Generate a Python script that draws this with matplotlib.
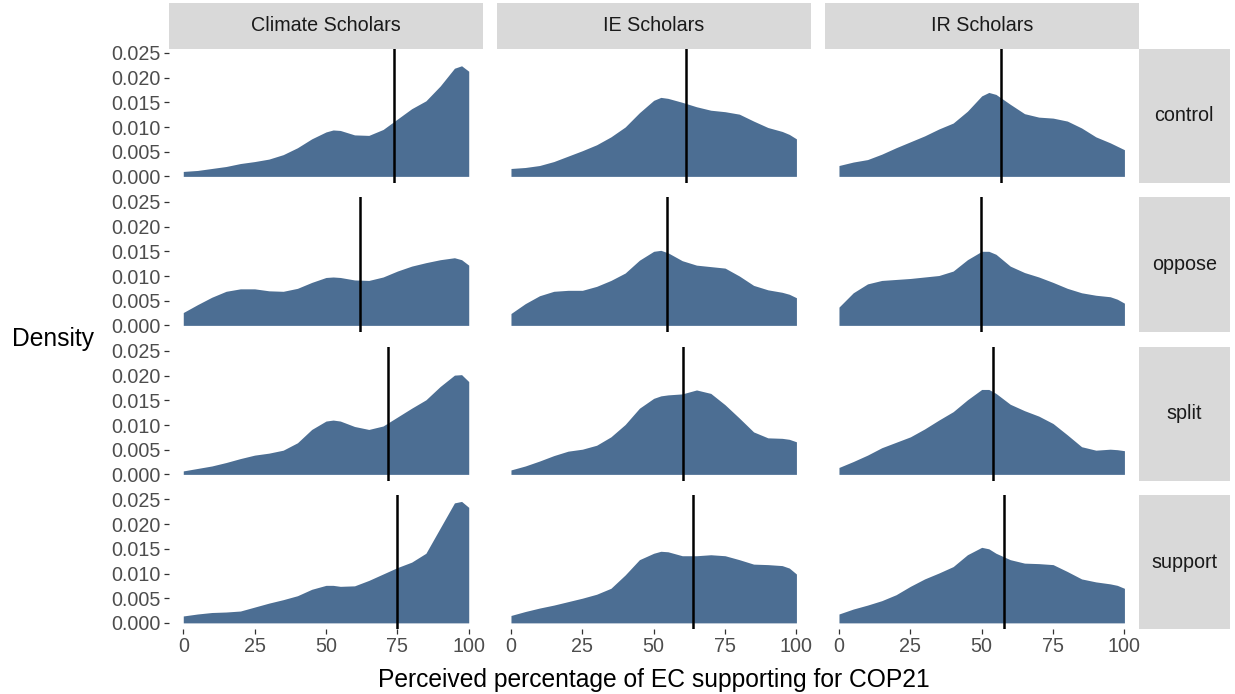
import matplotlib
matplotlib.use("Agg")
import matplotlib.pyplot as plt

plt.rcParams['font.family'] = ['Liberation Sans', 'DejaVu Sans']

groups = ["Climate Scholars", "IE Scholars", "IR Scholars"]
conditions = ["control", "oppose", "split", "support"]

x_grid = [0, 5, 10, 15, 20, 25, 30, 35, 40, 45, 50, 52.5, 55, 60, 65, 70, 75, 80, 85, 90, 95, 97.5, 100]

climate_control = [.0010, .0012, .0016, .0020, .0026, .0030, .0035, .0044, .0058, .0076, .0090, .0094, .0093, .0084, .0083, .0095, .0116, .0137, .0153, .0183, .0219, .0224, .0213]
ie_control = [.0016, .0018, .0022, .0030, .0041, .0052, .0064, .0080, .0100, .0129, .0154, .0160, .0158, .0150, .0141, .0134, .0131, .0126, .0112, .0099, .0091, .0085, .0076]
ir_control = [.0022, .0029, .0034, .0045, .0058, .0070, .0082, .0096, .0108, .0132, .0163, .0170, .0166, .0146, .0127, .0120, .0118, .0112, .0098, .0080, .0068, .0061, .0054]

climate_oppose = [.0026, .0042, .0057, .0069, .0074, .0074, .0070, .0069, .0075, .0087, .0097, .0098, .0097, .0092, .0091, .0098, .0110, .0120, .0127, .0133, .0137, .0133, .0122]
ie_oppose = [.0024, .0044, .0060, .0069, .0071, .0071, .0079, .0091, .0106, .0132, .0150, .0152, .0147, .0131, .0122, .0119, .0116, .0100, .0081, .0072, .0067, .0063, .0056]
ir_oppose = [.0037, .0066, .0084, .0091, .0093, .0095, .0098, .0101, .0110, .0133, .0150, .0150, .0144, .0120, .0107, .0098, .0087, .0075, .0066, .0061, .0058, .0053, .0045]

climate_split = [.0007, .0012, .0017, .0024, .0032, .0039, .0043, .0049, .0064, .0091, .0108, .0110, .0108, .0097, .0091, .0098, .0116, .0134, .0151, .0178, .0201, .0202, .0188]
ie_split = [.0009, .0017, .0027, .0038, .0047, .0051, .0059, .0076, .0101, .0134, .0154, .0159, .0161, .0163, .0171, .0164, .0141, .0114, .0086, .0074, .0073, .0071, .0066]
ir_split = [.0014, .0026, .0039, .0054, .0065, .0076, .0092, .0110, .0127, .0151, .0172, .0172, .0164, .0142, .0129, .0118, .0103, .0080, .0056, .0049, .0051, .0050, .0048]

climate_support = [.0014, .0018, .0021, .0022, .0024, .0032, .0040, .0047, .0055, .0068, .0076, .0076, .0074, .0075, .0086, .0099, .0112, .0123, .0141, .0192, .0243, .0246, .0234]
ie_support = [.0015, .0023, .0030, .0036, .0043, .0050, .0058, .0070, .0097, .0128, .0141, .0145, .0144, .0136, .0136, .0138, .0136, .0128, .0119, .0118, .0116, .0111, .0099]
ir_support = [.0018, .0028, .0036, .0045, .0057, .0074, .0089, .0101, .0114, .0138, .0153, .0150, .0141, .0128, .0121, .0120, .0118, .0104, .0089, .0083, .0079, .0076, .0070]

densities = [
    [climate_control, ie_control, ir_control],
    [climate_oppose, ie_oppose, ir_oppose],
    [climate_split, ie_split, ir_split],
    [climate_support, ie_support, ir_support],
]

climate_means = [73.7, 61.8, 71.8, 75.0]
ie_means = [61.3, 54.8, 60.3, 63.6]
ir_means = [56.6, 49.7, 53.8, 57.9]
means = [climate_means, ie_means, ir_means]

x_ticks = [0, 25, 50, 75, 100]
y_ticks = [0.000, 0.005, 0.010, 0.015, 0.020, 0.025]
y_ticklabels = ["0.000", "0.005", "0.010", "0.015", "0.020", "0.025"]

W, H = 1235, 694
fig = plt.figure(figsize=(W / 100, H / 100), dpi=100)

fill_color = "#4C6E93"
strip_color = "#D9D9D9"
col_left = [169, 496.7, 824.7]
panel_w = 314
row_top = [48.5, 197.5, 346.5, 495]
panel_h = 134
strip_top = 3
right_strip_l = 1138.5
right_strip_r = 1230

def rect(l, t, w, h):
    return [l / W, 1 - (t + h) / H, w / W, h / H]

for r in range(4):
    for c in range(3):
        ax = fig.add_axes(rect(col_left[c], row_top[r], panel_w, panel_h))
        ax.fill_between(x_grid, 0, densities[r][c], color=fill_color, linewidth=0)
        ax.axvline(means[c][r], color="black", linewidth=1.8)
        ax.set_xlim(-5, 105)
        ax.set_ylim(-0.00124, 0.0259)
        for s in ax.spines.values():
            s.set_visible(False)
        ax.set_xticks(x_ticks)
        ax.set_yticks(y_ticks)
        ax.tick_params(axis='both', colors="#333333", length=3.6, width=0.9,
                       labelsize=14.2, labelcolor="#4D4D4D", pad=2.2)
        if c == 0:
            ax.set_yticklabels(y_ticklabels)
        else:
            ax.tick_params(axis='y', left=False, labelleft=False)
        if r == 3:
            ax.set_xticklabels([str(t) for t in x_ticks])
        else:
            ax.tick_params(axis='x', bottom=False, labelbottom=False)

# top strips
for c in range(3):
    sax = fig.add_axes(rect(col_left[c], strip_top, panel_w, row_top[0] - strip_top))
    sax.set_facecolor(strip_color)
    sax.set_xticks([]); sax.set_yticks([])
    for s in sax.spines.values():
        s.set_visible(False)
    sax.text(0.5, 0.5, groups[c], ha="center", va="center", fontsize=14.2,
             color="#1A1A1A", transform=sax.transAxes)

# right strips
for r in range(4):
    sax = fig.add_axes(rect(right_strip_l, row_top[r], right_strip_r - right_strip_l, panel_h))
    sax.set_facecolor(strip_color)
    sax.set_xticks([]); sax.set_yticks([])
    for s in sax.spines.values():
        s.set_visible(False)
    sax.text(0.5, 0.5, conditions[r], ha="center", va="center", fontsize=14.2,
             color="#1A1A1A", transform=sax.transAxes)

fig.text(12 / W, 1 - 339 / H, "Density", ha="left", va="center", fontsize=17.7, color="black")
fig.text(653.5 / W, 1 - 680 / H, "Perceived percentage of EC supporting for COP21",
         ha="center", va="center", fontsize=17.7, color="black")

fig.savefig("out.png", dpi=100)
